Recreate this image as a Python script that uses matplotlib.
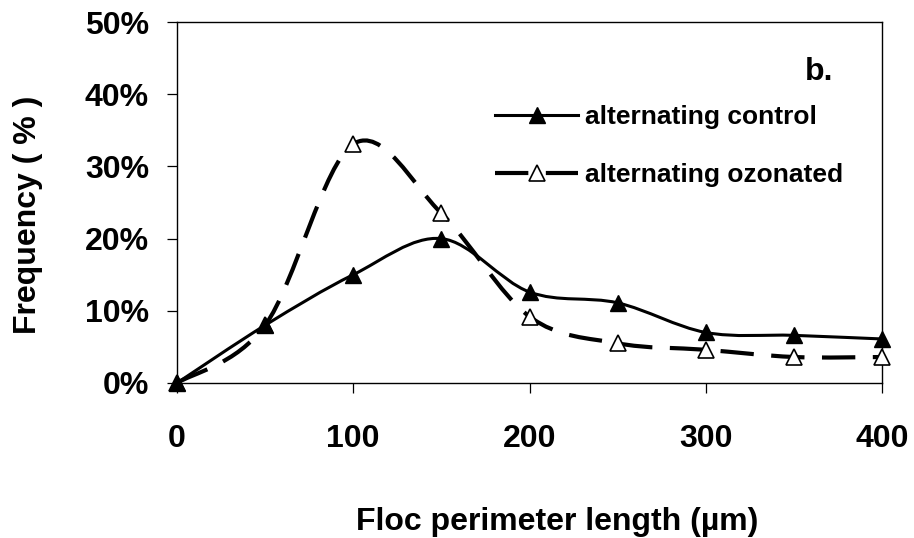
import numpy as np
import matplotlib
matplotlib.use("Agg")
import matplotlib.pyplot as plt
from matplotlib.path import Path
from matplotlib.patches import PathPatch
from matplotlib.lines import Line2D
from matplotlib.ticker import PercentFormatter

# data
perimeter = [0, 50, 100, 150, 200, 250, 300, 350, 400]
control = [0, 8, 15, 20, 12.6, 11.1, 7.0, 6.6, 6.1]
ozonated = [0, 8, 33.1, 23.5, 9.2, 5.5, 4.6, 3.6, 3.6]
labels = ["alternating control", "alternating ozonated"]
x_ticks = [0, 100, 200, 300, 400]
y_ticks = [0, 10, 20, 30, 40, 50]

plt.rcParams['font.family'] = ['Liberation Sans', 'DejaVu Sans']
plt.rcParams['font.weight'] = 'bold'


def smooth_path(xs, ys):
    # Excel-like smoothed line: Catmull-Rom segments as cubic Bezier curves
    pts = np.column_stack([xs, ys]).astype(float)
    ext = np.vstack([pts[0], pts, pts[-1]])
    verts = [pts[0]]
    codes = [Path.MOVETO]
    for i in range(len(pts) - 1):
        p0, p1, p2, p3 = ext[i], ext[i + 1], ext[i + 2], ext[i + 3]
        verts += [p1 + (p2 - p0) / 6, p2 - (p3 - p1) / 6, p2]
        codes += [Path.CURVE4] * 3
    return Path(verts, codes)


fig = plt.figure(figsize=(9.14, 5.38), dpi=100)
ax = fig.add_axes([177 / 914, 155 / 538, 705 / 914, 361 / 538])

solid_lw = 2.2
dash_lw = 3.0
dash = (0, (8, 4.2))

# ozonated first so the control markers sit on top
ax.add_patch(PathPatch(smooth_path(perimeter, ozonated), fill=False, ec='black',
                       lw=dash_lw, ls=dash, capstyle='butt', zorder=2))
ax.plot(perimeter, ozonated, ls='none', marker='^', ms=11, mfc='white',
        mec='black', mew=1.2, clip_on=False, zorder=3)

ax.add_patch(PathPatch(smooth_path(perimeter, control), fill=False, ec='black',
                       lw=solid_lw, capstyle='round', joinstyle='round', zorder=4))
ax.plot(perimeter, control, ls='none', marker='^', ms=11, mfc='black',
        mec='black', clip_on=False, zorder=5)

ax.set_xlim(0, 400)
ax.set_ylim(0, 50)
ax.set_xticks(x_ticks)
ax.set_yticks(y_ticks)
ax.yaxis.set_major_formatter(PercentFormatter(xmax=100, decimals=0))

ax.tick_params(axis='both', direction='out', length=7.2, width=0.9,
               labelsize=23, color='black')
ax.tick_params(axis='x', pad=22)
ax.tick_params(axis='y', pad=13)
for s in ax.spines.values():
    s.set_linewidth(1.0)

ax.set_xlabel("Floc perimeter length (µm)", fontsize=23, fontweight='bold', va='center')
ax.xaxis.set_label_coords(0.539, -0.385)
ax.set_ylabel("Frequency ( % )", fontsize=23, fontweight='bold', va='center')
ax.yaxis.set_label_coords(-0.212, 0.465)

ax.text(0.891, 0.839, "b.", transform=ax.transAxes, fontsize=23,
        fontweight='bold', ha='left', va='baseline')

handles = [
    Line2D([], [], color='black', lw=solid_lw, marker='^', ms=11, mfc='black'),
    Line2D([], [], color='black', lw=dash_lw, ls=dash, marker='^', ms=11,
           mfc='white', mew=1.2),
]
ax.legend(handles, labels, loc='upper left', bbox_to_anchor=(0.451, 0.77),
          frameon=False, fontsize=19, handlelength=3.15, handletextpad=0.25,
          labelspacing=1.28, borderpad=0, borderaxespad=0, numpoints=1)

fig.savefig("out.png", dpi=100)
